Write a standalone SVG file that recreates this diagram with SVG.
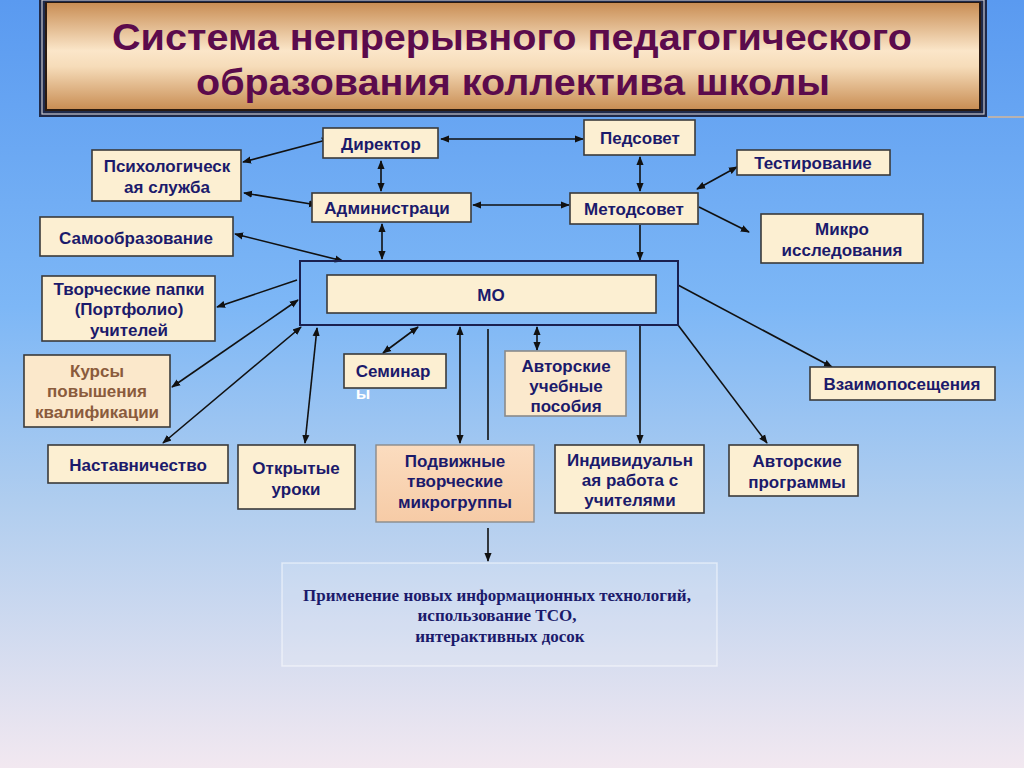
<svg xmlns="http://www.w3.org/2000/svg" width="1024" height="768" viewBox="0 0 1024 768">
<defs>
<linearGradient id="bg" x1="0" y1="0" x2="0" y2="1">
<stop offset="0" stop-color="#5a9af0"/>
<stop offset="0.4" stop-color="#7db7f6"/>
<stop offset="0.65" stop-color="#afcdef"/>
<stop offset="1" stop-color="#f2e8f0"/>
</linearGradient>
<linearGradient id="tan" x1="0" y1="0" x2="0" y2="1">
<stop offset="0" stop-color="#c98e55"/>
<stop offset="0.45" stop-color="#fbe6c9"/>
<stop offset="0.6" stop-color="#f6dcb9"/>
<stop offset="1" stop-color="#c98e55"/>
</linearGradient>
<linearGradient id="peach" x1="0" y1="0" x2="0" y2="1">
<stop offset="0" stop-color="#fbdcbf"/>
<stop offset="1" stop-color="#f6cba6"/>
</linearGradient>
<marker id="ah" viewBox="0 0 10 10" refX="9" refY="5" markerWidth="9" markerHeight="9" markerUnits="userSpaceOnUse" orient="auto-start-reverse">
<path d="M0,1 L10,5 L0,9 Z" fill="#111"/>
</marker>
<style>
.box{fill:#fcefd2;stroke:#3a3a3a;stroke-width:1.6}
.t{font-family:"Liberation Sans",Arial,sans-serif;font-weight:bold;font-size:17px;fill:#1b1a6b;text-anchor:middle}
.c{stroke:#111;stroke-width:1.6;fill:none}
.d{marker-start:url(#ah);marker-end:url(#ah)}
.e{marker-end:url(#ah)}
.title{font-family:"Liberation Sans Narrow","Liberation Sans",Arial,sans-serif;font-weight:bold;font-size:37px;fill:#5b0b4c;text-anchor:middle}
.serif{font-family:"Liberation Serif","Times New Roman",serif;font-weight:bold;font-size:17px;fill:#1b1a6b;text-anchor:middle}
</style>
</defs>
<rect x="0" y="0" width="1024" height="768" fill="url(#bg)"/>

<g id="title">
<line x1="988" y1="117" x2="1024" y2="117" stroke="#b9b2b0" stroke-width="2"/>
<rect x="39" y="-2" width="948" height="119" fill="#1f2a4a"/>
<rect x="42" y="0" width="942" height="114" fill="none" stroke="#c8c8d0" stroke-width="1.2"/>
<rect x="45" y="2" width="936" height="109" fill="#2a1a10"/>
<rect x="47" y="3" width="932" height="106" fill="url(#tan)"/>
<text class="title" x="512" y="50" textLength="800" lengthAdjust="spacingAndGlyphs">Система непрерывного педагогического</text>
<text class="title" x="513" y="95" textLength="634" lengthAdjust="spacingAndGlyphs">образования коллектива школы</text>
</g>

<g id="connectors">
<line class="c d" x1="441" y1="139" x2="583" y2="139"/>
<line class="c d" x1="473" y1="205" x2="569" y2="205"/>
<line class="c d" x1="381" y1="161" x2="381" y2="191"/>
<line class="c d" x1="243" y1="162" x2="330" y2="139"/>
<line class="c d" x1="244" y1="193" x2="317" y2="205"/>
<line class="c d" x1="382" y1="224" x2="382" y2="259"/>
<line class="c d" x1="235" y1="234" x2="343" y2="261"/>
<line class="c d" x1="640" y1="157" x2="640" y2="191"/>
<line class="c d" x1="697" y1="189" x2="737" y2="167"/>
<line class="c e" x1="699" y1="207" x2="749" y2="232"/>
<line class="c e" x1="640" y1="225" x2="640" y2="260"/>
<line class="c e" x1="297" y1="280" x2="217" y2="307"/>
<line class="c d" x1="298" y1="300" x2="172" y2="387"/>
<line class="c d" x1="301" y1="327" x2="163" y2="443"/>
<line class="c d" x1="317" y1="328" x2="305" y2="443"/>
<line class="c d" x1="418" y1="327" x2="383" y2="353"/>
<line class="c d" x1="460" y1="327" x2="460" y2="443"/>
<line class="c" x1="488" y1="329" x2="488" y2="440"/>
<line class="c e" x1="488" y1="528" x2="488" y2="561"/>
<line class="c d" x1="537" y1="327" x2="537" y2="350"/>
<line class="c e" x1="640" y1="326" x2="640" y2="443"/>
<line class="c e" x1="678" y1="325" x2="767" y2="443"/>
<line class="c e" x1="678" y1="285" x2="832" y2="367"/>
</g>

<g id="director"><rect class="box" x="323" y="128" width="115" height="30"/><text class="t" x="381" y="150">Директор</text></g>
<g id="pedsovet"><rect class="box" x="584" y="120" width="111" height="35"/><text class="t" x="640" y="144">Педсовет</text></g>
<g id="psych"><rect class="box" x="92" y="150" width="149" height="51"/><text class="t" x="167" y="172">Психологическ</text><text class="t" x="167" y="193">ая служба</text></g>
<g id="admin"><rect class="box" x="312" y="193" width="159" height="29"/><text class="t" x="387" y="214">Администраци</text></g>
<g id="metodsovet"><rect class="box" x="570" y="193" width="128" height="31"/><text class="t" x="634" y="215">Методсовет</text></g>
<g id="testing"><rect class="box" x="737" y="150" width="153" height="25"/><text class="t" x="813" y="169">Тестирование</text></g>
<g id="micro"><rect class="box" x="761" y="214" width="162" height="49"/><text class="t" x="842" y="235">Микро</text><text class="t" x="842" y="256">исследования</text></g>
<g id="selfedu"><rect class="box" x="40" y="217" width="193" height="39"/><text class="t" x="136" y="244">Самообразование</text></g>
<g id="portfolio"><rect class="box" x="42" y="276" width="173" height="65"/><text class="t" x="129" y="295">Творческие папки</text><text class="t" x="129" y="315">(Портфолио)</text><text class="t" x="129" y="336">учителей</text></g>
<g id="mo"><rect x="300" y="261" width="378" height="64" fill="none" stroke="#1a2050" stroke-width="2"/><rect class="box" x="327" y="275" width="329" height="38"/><text class="t" x="491" y="301">МО</text></g>
<g id="courses"><rect class="box" x="24" y="355" width="146" height="72" style="fill:#fbe8cb"/><text class="t" x="97" y="377" style="fill:#8a5b3c">Курсы</text><text class="t" x="97" y="397" style="fill:#8a5b3c">повышения</text><text class="t" x="97" y="418" style="fill:#8a5b3c">квалификации</text></g>
<g id="seminars"><rect class="box" x="344" y="354" width="102" height="34"/><text class="t" x="393" y="377">Семинар</text><text class="t" x="363" y="399" style="fill:#ffffff">ы</text></g>
<g id="textbooks"><rect class="box" x="505" y="351" width="121" height="65" style="fill:#fbe9cd;stroke:#8a8a8a"/><text class="t" x="566" y="372">Авторские</text><text class="t" x="566" y="392">учебные</text><text class="t" x="566" y="412">пособия</text></g>
<g id="visits"><rect class="box" x="810" y="367" width="185" height="33"/><text class="t" x="902" y="390">Взаимопосещения</text></g>
<g id="mentoring"><rect class="box" x="48" y="445" width="180" height="38"/><text class="t" x="138" y="471">Наставничество</text></g>
<g id="openlessons"><rect class="box" x="238" y="445" width="117" height="64"/><text class="t" x="296" y="474">Открытые</text><text class="t" x="296" y="495">уроки</text></g>
<g id="microgroups"><rect x="376" y="445" width="158" height="77" fill="url(#peach)" stroke="#8a8a8a" stroke-width="1.4"/><text class="t" x="455" y="467">Подвижные</text><text class="t" x="455" y="487">творческие</text><text class="t" x="455" y="508">микрогруппы</text></g>
<g id="individual"><rect class="box" x="555" y="445" width="149" height="68"/><text class="t" x="630" y="466">Индивидуальн</text><text class="t" x="630" y="486">ая работа с</text><text class="t" x="630" y="506">учителями</text></g>
<g id="programs"><rect class="box" x="729" y="445" width="129" height="51"/><text class="t" x="797" y="467">Авторские</text><text class="t" x="797" y="488">программы</text></g>
<g id="ict"><rect x="282" y="563" width="435" height="103" fill="#ffffff" fill-opacity="0.12" stroke="#ffffff" stroke-opacity="0.5" stroke-width="1.5"/><text class="serif" x="497" y="601">Применение новых информационных технологий,</text><text class="serif" x="497" y="621">использование ТСО,</text><text class="serif" x="500" y="642">интерактивных досок</text></g>
</svg>
